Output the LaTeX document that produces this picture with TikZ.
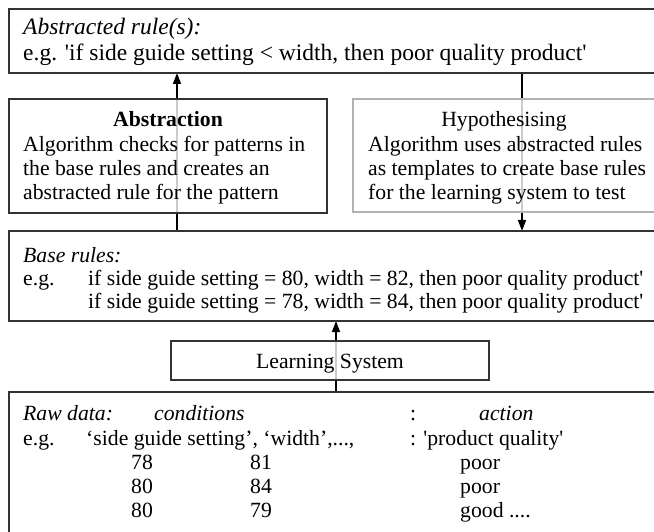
\documentclass[tikz,border=0pt]{standalone}
\usepackage{fontspec}
\setmainfont{Liberation Serif}
\usetikzlibrary{arrows.meta}
\pgfdeclarelayer{bg}
\pgfsetlayers{bg,main}
\newcommand{\bodyfs}{\fontsize{21.7}{24}\selectfont}
\newcommand{\topfs}{\fontsize{23.5}{26}\selectfont}
\begin{document}
\begin{tikzpicture}[x=1pt,y=-1pt,
  every node/.style={font=\bodyfs},
  box/.style={draw=black!80,line width=1.4pt,fill=white,fill opacity=0.8,draw opacity=1,anchor=north west,inner sep=0pt,outer sep=0pt},
  gbox/.style={box,draw=black!30},
  tl/.style={anchor=base west,inner sep=0pt},
  tc/.style={anchor=base,inner sep=0pt},
  arr/.style={line width=1.4pt,-{Triangle[length=11pt,width=8pt]}}]
\useasboundingbox (0,0) rectangle (654,532);
% boxes
\node[box,minimum width=650pt,minimum height=64pt] (top) at (9,9) {};
\node[box,minimum width=318pt,minimum height=114pt] (abs) at (9,99) {};
\node[gbox,minimum width=305pt,minimum height=113pt] (hyp) at (353,99) {};
\node[box,minimum width=650pt,minimum height=90pt] (base) at (9,231) {};
\node[box,minimum width=318pt,minimum height=39pt] (ls) at (171,341) {};
\node[box,minimum width=650pt,minimum height=150pt] (raw) at (9,392) {};
% top box text
\node[tl,font=\topfs\itshape] (t1) at (23,35) {Abstracted rule(s):};
\node[tl,font=\topfs] (t2) at (23,61) {e.g. \textquotesingle if side guide setting \textless{} width, then poor quality product\textquotesingle};
% abstraction
\node[tc,font=\bodyfs\bfseries] (a0) at (168,127) {Abstraction};
\node[tl] (a1) at (23,152) {Algorithm checks for patterns in};
\node[tl] (a2) at (23,176) {the base rules and creates an};
\node[tl] (a3) at (23,200) {abstracted rule for the pattern};
% hypothesising
\node[tc] (h0) at (504,127) {Hypothesising};
\node[tl] (h1) at (368,152) {Algorithm uses abstracted rules};
\node[tl] (h2) at (368,176) {as templates to create base rules};
\node[tl] (h3) at (368,200) {for the learning system to test};
% base rules
\node[tl,font=\bodyfs\itshape] (b0) at (23,262) {Base rules:};
\node[tl] (b1e) at (23,285) {e.g.};
\node[tl] (b1) at (88,285) {if side guide setting = 80, width = 82, then poor quality product\textquotesingle};
\node[tl] (b2) at (88,308) {if side guide setting = 78, width = 84, then poor quality product\textquotesingle};
% learning system
\node[tc] (lst) at (330,368) {Learning System};
% raw data
\node[tl,font=\bodyfs\itshape] (r0) at (23,420) {Raw data:};
\node[tl,font=\bodyfs\itshape] (r0c) at (154,420) {conditions};
\node[tl] (r0s) at (410,420) {:};
\node[tl,font=\bodyfs\itshape] (r0a) at (479,420) {action};
\node[tl] (r1e) at (23,445) {e.g.};
\node[tl] (r1c) at (86,445) {‘side guide setting’, ‘width’,...,};
\node[tl] (r1a) at (410,445) {: \textquotesingle product quality\textquotesingle};
\node[tl] (r2a) at (131,469) {78};
\node[tl] (r2b) at (250,469) {81};
\node[tl] (r2c) at (460,469) {poor};
\node[tl] (r3a) at (131,493) {80};
\node[tl] (r3b) at (250,493) {84};
\node[tl] (r3c) at (460,493) {poor};
\node[tl] (r4a) at (131,517) {80};
\node[tl] (r4b) at (250,517) {79};
\node[tl] (r4c) at (460,517) {good ....};
% arrows
\coordinate (lx) at (177,0);
\coordinate (rx) at (522,0);
\coordinate (mx) at (336,0);
\begin{pgfonlayer}{bg}
\draw[arr] (base.north -| lx) -- (top.south -| lx);
\draw[arr] (top.south -| rx) -- (base.north -| rx);
\draw[arr] (raw.north -| mx) -- (base.south -| mx);
\end{pgfonlayer}
\end{tikzpicture}
\end{document}
